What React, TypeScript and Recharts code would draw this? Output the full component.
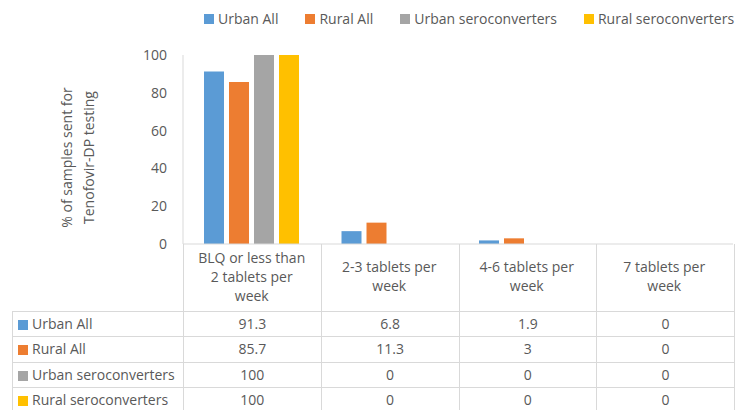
import { BarChart, Bar, XAxis, YAxis, Text } from "recharts";

const categories = [
  "BLQ or less than 2 tablets per week",
  "2-3 tablets per week",
  "4-6 tablets per week",
  "7 tablets per week",
];
const urbanAll = [91.3, 6.8, 1.9, 0];
const ruralAll = [85.7, 11.3, 3, 0];
const urbanSeroconverters = [100, 0, 0, 0];
const ruralSeroconverters = [100, 0, 0, 0];
const yTicks = [0, 20, 40, 60, 80, 100];
const yTitle = ["% of samples sent for", "Tenofovir-DP testing"];

const series = [
  { key: "urbanAll", name: "Urban All", color: "#5B9BD5", values: urbanAll },
  { key: "ruralAll", name: "Rural All", color: "#ED7D31", values: ruralAll },
  { key: "urbanSero", name: "Urban seroconverters", color: "#A5A5A5", values: urbanSeroconverters },
  { key: "ruralSero", name: "Rural seroconverters", color: "#FFC000", values: ruralSeroconverters },
];

const data = categories.map((category, i) => {
  const row: Record<string, string | number> = { category };
  series.forEach((s) => (row[s.key] = s.values[i]));
  return row;
});

const FONT = "'Open Sans', sans-serif";
const TEXT = "#595959";
const LINE = "#d9d9d9";

function CategoryTick({ x, y, payload }: any) {
  return (
    <Text
      x={x}
      y={y + 33}
      width={125}
      textAnchor="middle"
      verticalAnchor="middle"
      lineHeight="1.36em"
      fill={TEXT}
      fontSize={14}
      fontFamily={FONT}
      style={{ fontSize: 14, fontFamily: FONT }}
    >
      {payload.value}
    </Text>
  );
}

function YTitle({ viewBox }: any) {
  const cx = viewBox.x - 67;
  const cy = viewBox.y + viewBox.height / 2 + 8;
  return (
    <text
      transform={`translate(${cx}, ${cy}) rotate(-90)`}
      textAnchor="middle"
      fill={TEXT}
      fontSize={14}
      fontFamily={FONT}
    >
      <tspan x={0} dy={-4}>{yTitle[0]}</tspan>
      <tspan x={0} dy={22}>{yTitle[1]}</tspan>
    </text>
  );
}

const cell = {
  border: `1px solid ${LINE}`,
  textAlign: "center" as const,
  padding: 0,
  lineHeight: "18px",
};

export default function App() {
  return (
    <div
      style={{
        position: "absolute",
        left: 0,
        top: 0,
        width: 736,
        height: 410,
        background: "#fff",
        overflow: "hidden",
        fontFamily: FONT,
      }}
    >
      {/* legend */}
      <div
        style={{
          position: "absolute",
          top: 9,
          left: 204,
          display: "flex",
          gap: 27,
          fontSize: 14,
          color: TEXT,
          lineHeight: "20px",
          whiteSpace: "nowrap",
        }}
      >
        {series.map((s) => (
          <div key={s.key} style={{ display: "flex", alignItems: "center" }}>
            <span style={{ width: 10, height: 10, background: s.color, marginRight: 4 }} />
            {s.name}
          </div>
        ))}
      </div>

      <BarChart
        width={736}
        height={410}
        data={data}
        margin={{ top: 55, right: 3, bottom: 96, left: 143 }}
        barCategoryGap={21}
        barGap={5}
      >
        <XAxis
          dataKey="category"
          height={70}
          tickSize={0}
          tickMargin={0}
          tick={<CategoryTick />}
          axisLine={{ stroke: LINE }}
          interval={0}
        />
        <YAxis
          width={40}
          domain={[0, 100]}
          ticks={yTicks}
          tickSize={0}
          tickMargin={16}
          axisLine={{ stroke: LINE }}
          tick={{ fill: TEXT, fontSize: 14, fontFamily: FONT }}
          label={{ content: <YTitle /> }}
        />
        {series.map((s) => (
          <Bar key={s.key} dataKey={s.key} name={s.name} fill={s.color} isAnimationActive={false} />
        ))}
      </BarChart>

      {/* data table */}
      <table
        style={{
          position: "absolute",
          left: 12,
          top: 244,
          width: 722,
          borderCollapse: "collapse",
          tableLayout: "fixed",
          fontSize: 14,
          color: TEXT,
        }}
      >
        <colgroup>
          <col style={{ width: 171 }} />
          {categories.map((c) => (
            <col key={c} style={{ width: 137.75 }} />
          ))}
        </colgroup>
        <tbody>
          <tr style={{ height: 67 }}>
            <td style={{ ...cell, borderTop: "none", borderLeft: "none" }} />
            {categories.map((c) => (
              <td key={c} style={{ ...cell, borderTop: "none" }} />
            ))}
          </tr>
          {series.map((s) => (
            <tr key={s.key} style={{ height: 25.5 }}>
              <td style={{ ...cell, textAlign: "left", paddingLeft: 5, whiteSpace: "nowrap" }}>
                <span
                  style={{
                    display: "inline-block",
                    width: 10,
                    height: 10,
                    background: s.color,
                    marginRight: 4,
                    verticalAlign: "-1px",
                  }}
                />
                {s.name}
              </td>
              {s.values.map((v, i) => (
                <td key={i} style={cell}>
                  {String(v)}
                </td>
              ))}
            </tr>
          ))}
        </tbody>
      </table>
    </div>
  );
}
